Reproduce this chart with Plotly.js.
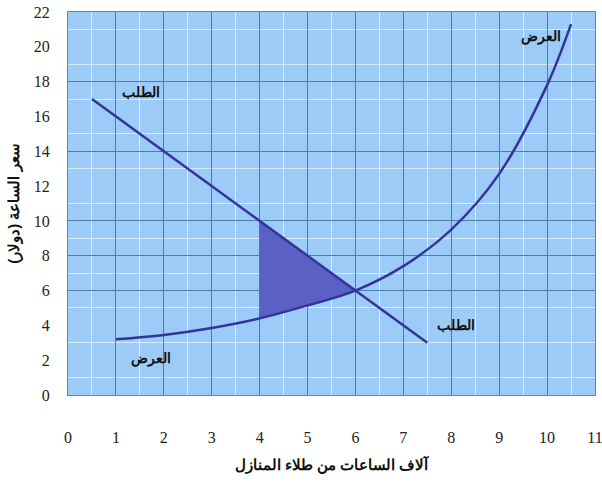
<!DOCTYPE html>
<html>
<head>
<meta charset="utf-8">
<script src="https://cdn.plot.ly/plotly-3.0.1.min.js"></script>
<style>html,body{margin:0;padding:0;background:#fff;}#chart{width:602px;height:482px;}</style>
</head>
<body>
<div id="chart"></div>
<script>
// Demand line (price per hour vs thousands of hours)
const demandX = [0.5, 7.5];
const demandY = [17, 3];
// Supply curve
const supplyX = [1, 2, 3, 4, 5, 6, 7, 8, 9, 10, 10.5];
const supplyY = [3.2, 3.45, 3.85, 4.4, 5.15, 6, 7.4, 9.5, 12.7, 17.8, 21.3];
// Shaded surplus area between x = 4 and x = 6
const shadeX = [4, 4.5, 5, 5.5, 6];
const shadeTop = [10, 9, 8, 7, 6];
const shadeBottom = [4.4, 4.75, 5.15, 5.55, 6];
// Tick values
const xTicks = [0, 1, 2, 3, 4, 5, 6, 7, 8, 9, 10, 11];
const yTicks = [0, 2, 4, 6, 8, 10, 12, 14, 16, 18, 20, 22];
const yDarkGrid = [6, 8, 10, 14, 18];
const yLightGrid = [1, 3, 5, 7, 9, 11, 13, 15, 17, 19, 21];
// Curve labels
const labels = [
  {text: 'الطلب', x: 1.52, y: 17.4},
  {text: 'العرض', x: 9.87, y: 20.6},
  {text: 'الطلب', x: 8.1, y: 4.0},
  {text: 'العرض', x: 1.73, y: 2.1}
];

const lineColor = '#333399';
const polyX = shadeX.concat(shadeX.slice().reverse());
const polyY = shadeTop.concat(shadeBottom.slice().reverse());

const traces = [
  {x: polyX, y: polyY, type: 'scatter', mode: 'lines', fill: 'toself',
   fillcolor: '#5a60c4', line: {width: 0, color: '#5a60c4'}, hoverinfo: 'skip', showlegend: false},
  {x: demandX, y: demandY, type: 'scatter', mode: 'lines',
   line: {color: lineColor, width: 2.5}, showlegend: false},
  {x: supplyX, y: supplyY, type: 'scatter', mode: 'lines',
   line: {color: lineColor, width: 2.5, shape: 'spline', smoothing: 1}, showlegend: false},
  {x: [0], y: [0], yaxis: 'y2', type: 'scatter', mode: 'markers',
   marker: {opacity: 0}, hoverinfo: 'skip', showlegend: false}
];

const tickFont = {family: 'Liberation Serif, DejaVu Serif, serif', size: 16, color: '#222'};
const titleFont = {family: 'Liberation Sans, Arial, sans-serif', size: 15, color: '#111'};

const layout = {
  width: 602, height: 482,
  font: {family: 'Liberation Serif, DejaVu Serif, serif'},
  margin: {l: 68, r: 7, t: 12, b: 87},
  paper_bgcolor: '#ffffff',
  plot_bgcolor: '#9ccbf7',
  showlegend: false,
  xaxis: {
    range: [0, 11], tickvals: xTicks, ticktext: xTicks.map(String),
    showgrid: true, gridcolor: '#4f7dab', gridwidth: 1,
    minor: {dtick: 0.5, tick0: 0, showgrid: true, gridcolor: '#d6ebff', gridwidth: 1},
    showline: true, linecolor: '#808080', linewidth: 1, mirror: true,
    zeroline: false, ticks: '', ticklabelstandoff: 28, ticklabeloverflow: 'allow',
    tickfont: tickFont,
    title: {text: '<b>آلاف الساعات من طلاء المنازل</b>', font: titleFont, standoff: 14}
  },
  yaxis: {
    range: [0, 22], tickvals: yTicks, ticktext: yTicks.map(String),
    showgrid: false,
    minor: {tickvals: yLightGrid, showgrid: true, gridcolor: '#d6ebff', gridwidth: 1},
    showline: true, linecolor: '#808080', linewidth: 1, mirror: true,
    zeroline: false, ticks: '', ticklabelstandoff: 14,
    tickfont: tickFont,
    title: {text: '<b>سعر الساعة (دولار)</b>', font: titleFont, standoff: 10}
  },
  yaxis2: {
    overlaying: 'y', range: [0, 22], tickvals: yDarkGrid,
    showticklabels: false, showgrid: true, gridcolor: '#4f7dab', gridwidth: 1,
    zeroline: false, showline: false, ticks: ''
  },
  annotations: labels.map(l => ({
    x: l.x, y: l.y, xref: 'x', yref: 'y', text: '<b>' + l.text + '</b>',
    showarrow: false, font: {family: 'Liberation Sans, Arial, sans-serif', size: 14, color: '#111'}
  }))
};

Plotly.newPlot('chart', traces, layout, {displayModeBar: false, staticPlot: true});
</script>
</body>
</html>
